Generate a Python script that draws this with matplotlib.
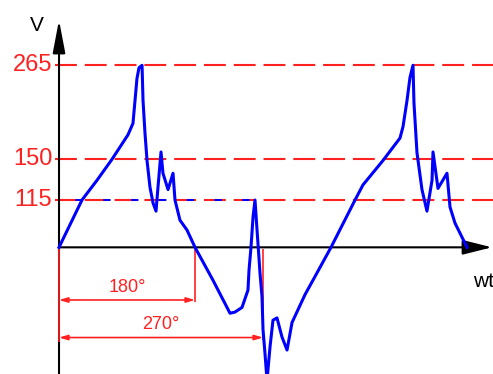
import numpy as np
import matplotlib.pyplot as plt

# phase angle (deg) and voltage (V) of the waveform
angle = [0, 30.4, 50.3, 70.1, 91.3, 97.9, 100.6, 103.2, 105.9, 109.9,
         111.2, 113.8, 116.5, 120.4, 124.4, 128.4, 131.0, 135.0, 137.6, 144.3,
         150.9, 153.5, 160.1, 169.4, 180,
         203.8, 226.3, 232.9, 242.2, 250.1, 251.5, 254.1, 256.8, 259.4, 262.1,
         266.0, 268.7, 270.0, 272.6, 275.3, 279.3, 283.2, 288.5, 295.1, 301.8,
         308.4, 325.6, 341.5, 360,
         391.8, 402.3, 428.8, 451.3, 455.3, 460.6, 464.5, 468.5, 469.8, 473.8,
         480.4, 487.0, 493.7, 495.0, 501.6, 513.5, 517.5, 524.1, 540]
volts = [0, 115, 132, 150, 180, 194, 222, 249, 262, 265,
         222, 182, 149, 126, 108, 88, 126, 159, 138, 124,
         138, 115, 66, 42, 0,
         -80, -131, -130, -126, -104, -55, 0, 74, 115, 42,
         -62, -117, -145, -172, -205, -164, -137, -135, -152, -168,
         -139, -115, -62, 0,
         115, 128, 149, 176, 190, 222, 250, 265, 219, 158,
         124, 88, 132, 159, 125, 138, 98, 59, 0]

levels = [265, 150, 115]

# the vertical axis is drawn piecewise, not to scale
v_pts = np.array([-1000, -265, -150, -115, 0, 115, 150, 265, 1000])
h_pts = np.array([-182 - 735 * 0.8174, -182, -88, -47.3, 0, 47.3, 88, 182, 182 + 735 * 0.8174])


def fwd(v):
    return np.interp(v, v_pts, h_pts)


def inv(h):
    return np.interp(h, h_pts, v_pts)


plt.rcParams['font.family'] = ['Liberation Sans', 'DejaVu Sans']

fig = plt.figure(figsize=(4.93, 3.74), dpi=100)
ax = fig.add_axes([0, 0, 1, 1])
ax.set_yscale('function', functions=(fwd, inv))
ax.set_xlim(-78.1, 574.4)
ax.set_ylim(-197.3, 344.9)
ax.axis('off')

red = '#ff2020'
blue = '#0000ff'

# reference levels
ax.hlines(levels, -5, 574.4, colors=red, lw=1.5, linestyles=(0, (10.5, 3.8)), zorder=2)
# blue dashes filling the gaps of the 115 line over the first cycle
ax.hlines(115, -5, 262, colors=blue, lw=1.4, linestyles=(3.8, (3.8, 10.5)), zorder=2)
for v in levels:
    ax.text(-9, v, str(v), color=red, fontsize=17, ha='right', va='center')

# axes with arrow heads
ax.annotate('', xy=(0, 320.4), xytext=(0, -197.3),
            arrowprops=dict(arrowstyle='-|>,head_length=2.0,head_width=0.38', lw=1.5,
                            color='black', mutation_scale=10, shrinkA=0, shrinkB=0), zorder=3)
ax.annotate('', xy=(573, 0), xytext=(0, 0),
            arrowprops=dict(arrowstyle='-|>,head_length=1.8,head_width=0.45', lw=1.5,
                            color='black', mutation_scale=10, shrinkA=0, shrinkB=0), zorder=3)
ax.text(-29, 314, 'V', fontsize=15, ha='center', va='center')
ax.text(548, -84, 'wt', fontsize=15, ha='left', va='center')

# dimension lines for 180 and 270 degrees
ax.vlines(0, -158, 0, colors=red, lw=1.2, zorder=4)
ax.vlines(180, -121.4, 0, colors=red, lw=1.2, zorder=4)
ax.vlines(270, -155.8, -5, colors=red, lw=1.2, zorder=4)
for end, y in [(180, -119.6), (270, -152.7)]:
    ax.annotate('', xy=(end, y), xytext=(0, y),
                arrowprops=dict(arrowstyle='<|-|>,head_length=0.5,head_width=0.15', lw=1.2,
                                color=red, mutation_scale=10, shrinkA=0, shrinkB=0), zorder=4)
    ax.annotate(f'{end}°', xy=(end / 2, y), xytext=(0, 3), textcoords='offset points',
                color=red, fontsize=13, ha='center', va='bottom')

# waveform
ax.plot(angle, volts, color=blue, lw=2.2, zorder=5)

fig.savefig('out.png', dpi=100)
